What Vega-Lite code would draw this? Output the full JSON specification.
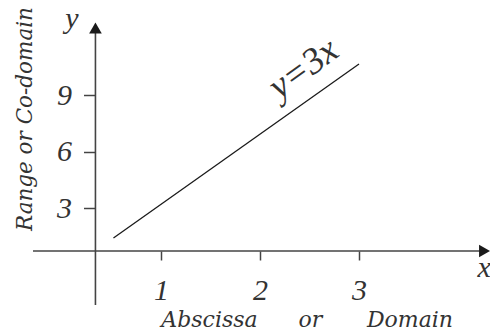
{
  "$schema": "https://vega.github.io/schema/vega-lite/v6.json",
  "width": 490,
  "height": 332,
  "autosize": "none",
  "padding": 0,
  "background": "white",
  "config": {"view": {"stroke": null}},
  "datasets": {
    "axisLines": [
      {"axis": "x", "x": -0.293, "x2": 4.22, "y": 0.717, "y2": 0.717},
      {"axis": "y", "x": 0.338, "x2": 0.338, "y": -2.151, "y2": 12.45}
    ],
    "arrowHeads": [
      {"axis": "x", "x": 4.268, "y": 0.717},
      {"axis": "y", "x": 0.338, "y": 12.56}
    ],
    "axisNames": [
      {"label": "y", "x": 0.101, "y": 12.56},
      {"label": "x", "x": 4.263, "y": -0.664}
    ],
    "rangeTitle": [
      {"label": "Range or Co-domain", "x": -0.303, "y": 7.727}
    ],
    "domainTitle": [
      {"label": "Abscissa", "x": 1.49, "y": -3.319},
      {"label": "or", "x": 2.51, "y": -3.319},
      {"label": "Domain", "x": 3.515, "y": -3.319}
    ],
    "equation": [
      {"label": "y=3x", "x": 2.44, "y": 10.4}
    ],
    "mapping": [
      {"x": 0.52, "y": 1.56},
      {"x": 3.0, "y": 9.0}
    ]
  },
  "layer": [
    {
      "layer": [
        {
          "data": {"name": "axisLines"},
          "mark": {"type": "rule", "color": "#444444", "strokeWidth": 1.6},
          "encoding": {
            "x": {
              "field": "x", "type": "quantitative",
              "scale": {"domain": [-0.626, 4.323], "nice": false, "zero": false},
              "axis": {
                "values": [1, 2, 3], "format": "d", "orient": "bottom", "offset": -81,
                "domain": false, "grid": false, "title": null,
                "tickSize": 9, "tickColor": "#444444", "tickWidth": 1.5,
                "labelFont": "Liberation Serif", "labelFontStyle": "italic", "labelFontSize": 30,
                "labelColor": "#333333", "labelBaseline": "alphabetic", "labelPadding": 39,
                "labelOverlap": false, "labelFlush": false
              }
            },
            "x2": {"field": "x2"},
            "y": {
              "field": "y", "type": "quantitative",
              "scale": {"domain": [-3.585, 14.05], "nice": false, "zero": false},
              "axis": {
                "values": [3, 6, 9], "format": "d", "orient": "left", "offset": -95.5,
                "domain": false, "grid": false, "title": null,
                "tickSize": 12, "tickColor": "#444444", "tickWidth": 1.5,
                "labelFont": "Liberation Serif", "labelFontStyle": "italic", "labelFontSize": 30,
                "labelColor": "#333333", "labelBaseline": "middle", "labelPadding": 12,
                "labelOverlap": false, "labelFlush": false
              }
            },
            "y2": {"field": "y2"}
          }
        },
        {
          "data": {"name": "arrowHeads"},
          "mark": {"type": "point", "filled": true, "color": "#1a1a1a", "opacity": 1, "size": 160},
          "encoding": {
            "x": {"field": "x", "type": "quantitative", "scale": {"domain": [-0.626, 4.323], "nice": false, "zero": false}},
            "y": {"field": "y", "type": "quantitative", "scale": {"domain": [-3.585, 14.05], "nice": false, "zero": false}},
            "shape": {
              "field": "axis", "type": "nominal",
              "scale": {"domain": ["x", "y"], "range": ["triangle-right", "triangle-up"]},
              "legend": null
            }
          }
        },
        {
          "data": {"name": "axisNames"},
          "mark": {"type": "text", "font": "Liberation Serif", "fontStyle": "italic", "fontSize": 30, "color": "#333333", "align": "center", "baseline": "alphabetic"},
          "encoding": {
            "x": {"field": "x", "type": "quantitative", "scale": {"domain": [-0.626, 4.323], "nice": false, "zero": false}},
            "y": {"field": "y", "type": "quantitative", "scale": {"domain": [-3.585, 14.05], "nice": false, "zero": false}},
            "text": {"field": "label"}
          }
        },
        {
          "data": {"name": "rangeTitle"},
          "mark": {"type": "text", "font": "DejaVu Serif", "fontStyle": "italic", "fontSize": 21.5, "color": "#333333", "align": "center", "baseline": "alphabetic", "angle": 270},
          "encoding": {
            "x": {"field": "x", "type": "quantitative", "scale": {"domain": [-0.626, 4.323], "nice": false, "zero": false}},
            "y": {"field": "y", "type": "quantitative", "scale": {"domain": [-3.585, 14.05], "nice": false, "zero": false}},
            "text": {"field": "label"}
          }
        },
        {
          "data": {"name": "domainTitle"},
          "mark": {"type": "text", "font": "DejaVu Serif", "fontStyle": "italic", "fontSize": 22, "color": "#333333", "align": "center", "baseline": "alphabetic"},
          "encoding": {
            "x": {"field": "x", "type": "quantitative", "scale": {"domain": [-0.626, 4.323], "nice": false, "zero": false}},
            "y": {"field": "y", "type": "quantitative", "scale": {"domain": [-3.585, 14.05], "nice": false, "zero": false}},
            "text": {"field": "label"}
          }
        },
        {
          "data": {"name": "equation"},
          "mark": {"type": "text", "font": "Liberation Serif", "fontStyle": "italic", "fontSize": 37, "color": "#333333", "align": "center", "baseline": "middle", "angle": 324},
          "encoding": {
            "x": {"field": "x", "type": "quantitative", "scale": {"domain": [-0.626, 4.323], "nice": false, "zero": false}},
            "y": {"field": "y", "type": "quantitative", "scale": {"domain": [-3.585, 14.05], "nice": false, "zero": false}},
            "text": {"field": "label"}
          }
        }
      ]
    },
    {
      "data": {"name": "mapping"},
      "mark": {"type": "line", "color": "#1a1a1a", "strokeWidth": 1.3},
      "encoding": {
        "x": {"field": "x", "type": "quantitative", "scale": {"domain": [-0.626, 4.323], "nice": false, "zero": false}},
        "y": {"field": "y", "type": "quantitative", "scale": {"domain": [-2.458, 11.736], "nice": false, "zero": false}, "axis": null}
      }
    }
  ],
  "resolve": {"scale": {"y": "independent"}}
}
